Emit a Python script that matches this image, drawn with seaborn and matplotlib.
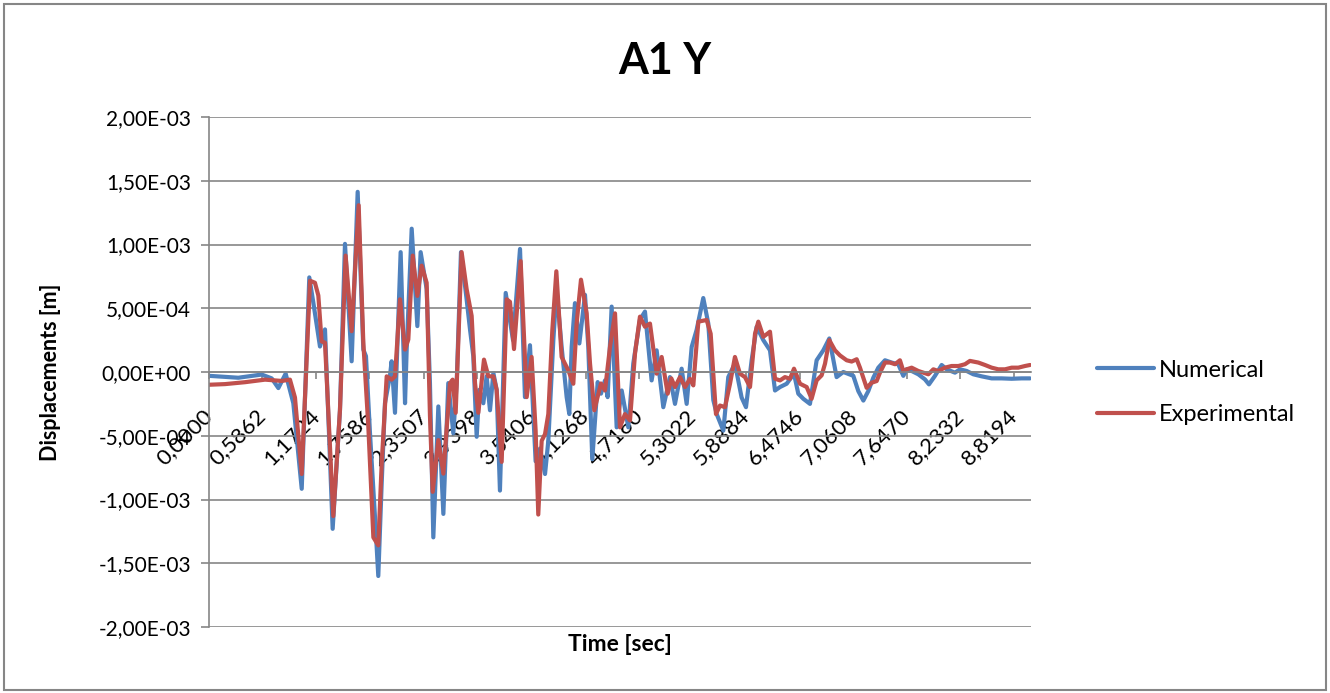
import numpy as np
import pandas as pd
import matplotlib
matplotlib.use("Agg")
import matplotlib.pyplot as plt
import matplotlib.ticker as mticker
from matplotlib.patches import Rectangle
import seaborn as sns

# Datos (desplazamientos en 1e-3 m)
t_num = [0.000, 0.321, 0.577, 0.687, 0.760, 0.840, 0.924, 1.016, 1.099, 1.143, 1.216, 1.271, 1.355, 1.435,
         1.490, 1.563, 1.629, 1.691, 1.720, 1.764, 1.819, 1.855, 1.892, 1.928, 1.983, 2.001, 2.038, 2.100,
         2.148, 2.166, 2.221, 2.283, 2.319, 2.385, 2.421, 2.458, 2.513, 2.568, 2.622, 2.677, 2.714, 2.761,
         2.823, 2.860, 2.896, 2.933, 2.962, 3.006, 3.042, 3.079, 3.116, 3.152, 3.188, 3.251, 3.331, 3.408,
         3.462, 3.517, 3.554, 3.579, 3.627, 3.682, 3.718, 3.773, 3.809, 3.864, 3.919, 3.948, 3.974, 4.010,
         4.058, 4.120, 4.156, 4.200, 4.259, 4.295, 4.339, 4.368, 4.412, 4.467, 4.522, 4.595, 4.649, 4.722,
         4.777, 4.850, 4.905, 4.978, 5.051, 5.106, 5.179, 5.234, 5.289, 5.343, 5.416, 5.471, 5.526, 5.563,
         5.636, 5.690, 5.763, 5.836, 5.884, 5.946, 6.001, 6.074, 6.147, 6.202, 6.257, 6.330, 6.410, 6.457,
         6.512, 6.585, 6.658, 6.731, 6.797, 6.877, 6.950, 7.060, 7.115, 7.170, 7.224, 7.279, 7.334, 7.407,
         7.480, 7.553, 7.608, 7.644, 7.699, 7.772, 7.845, 7.889, 7.955, 8.028, 8.083, 8.174, 8.229, 8.302,
         8.375, 8.466, 8.576, 8.685, 8.795, 8.904, 8.996]
y_num = [-0.03, -0.045, -0.02, -0.05, -0.126, -0.013, -0.245, -0.916, 0.742, 0.545, 0.2, 0.334, -1.23, -0.3,
         1.005, 0.084, 1.413, 0.176, 0.124, -0.48, -1.14, -1.60, -0.876, -0.245, -0.03, 0.084, -0.32, 0.94,
         -0.245, 0.176, 1.124, 0.36, 0.94, 0.65, -0.087, -1.297, -0.27, -1.113, -0.087, -0.48, -0.087, 0.94,
         0.57, 0.334, 0.124, -0.508, -0.14, -0.245, -0.034, -0.3, -0.008, -0.14, -0.93, 0.62, 0.25, 0.965,
         -0.197, 0.21, -0.33, -0.70, -0.60, -0.80, -0.54, 0.25, 0.645, 0.197, -0.197, -0.33, 0.197, 0.54,
         0.224, 0.605, 0.197, -0.684, -0.079, -0.17, -0.066, -0.197, 0.513, -0.434, -0.145, -0.434, 0.066, 0.41,
         0.474, -0.066, 0.17, -0.276, -0.04, -0.25, 0.026, -0.25, 0.197, 0.33, 0.58, 0.38, -0.22, -0.33,
         -0.46, -0.04, 0.066, -0.2, -0.276, 0.092, 0.355, 0.25, 0.17, -0.145, -0.118, -0.092, -0.013, -0.17,
         -0.21, -0.25, 0.092, 0.17, 0.263, -0.04, 0.0, -0.03, -0.15, -0.224, -0.15, -0.045, 0.034, 0.092,
         0.074, 0.06, -0.03, 0.021, 0.008, -0.018, -0.058, -0.097, -0.03, 0.055, 0.021, -0.005, 0.021, 0.008,
         -0.018, -0.034, -0.05, -0.05, -0.053, -0.05, -0.05]

t_exp = [0.000, 0.175, 0.394, 0.614, 0.796, 0.887, 0.942, 1.016, 1.107, 1.161, 1.198, 1.234, 1.271, 1.362,
         1.435, 1.497, 1.563, 1.640, 1.691, 1.746, 1.801, 1.855, 1.892, 1.947, 2.001, 2.038, 2.093, 2.148,
         2.184, 2.232, 2.283, 2.330, 2.385, 2.421, 2.451, 2.513, 2.568, 2.641, 2.670, 2.703, 2.768, 2.823,
         2.878, 2.915, 2.951, 3.013, 3.061, 3.116, 3.152, 3.207, 3.262, 3.298, 3.342, 3.415, 3.481, 3.535,
         3.579, 3.608, 3.645, 3.682, 3.718, 3.762, 3.806, 3.864, 3.937, 3.992, 4.028, 4.076, 4.138, 4.175,
         4.222, 4.295, 4.339, 4.394, 4.449, 4.503, 4.558, 4.613, 4.668, 4.722, 4.777, 4.832, 4.905, 4.960,
         5.026, 5.066, 5.106, 5.161, 5.216, 5.270, 5.307, 5.362, 5.453, 5.497, 5.555, 5.599, 5.654, 5.709,
         5.763, 5.818, 5.873, 5.928, 5.983, 6.019, 6.074, 6.147, 6.202, 6.257, 6.311, 6.366, 6.410, 6.476,
         6.549, 6.603, 6.658, 6.713, 6.750, 6.797, 6.859, 6.914, 6.987, 7.042, 7.097, 7.133, 7.170, 7.206,
         7.261, 7.316, 7.352, 7.407, 7.462, 7.517, 7.571, 7.608, 7.644, 7.699, 7.772, 7.827, 7.882, 7.937,
         7.991, 8.064, 8.137, 8.211, 8.284, 8.338, 8.430, 8.503, 8.576, 8.649, 8.722, 8.795, 8.868, 8.941,
         8.996]
y_exp = [-0.10, -0.095, -0.08, -0.06, -0.07, -0.06, -0.2, -0.80, 0.716, 0.70, 0.6, 0.24, 0.23, -1.13,
         -0.3, 0.913, 0.32, 1.308, 0.23, -0.43, -1.297, -1.36, -0.72, -0.034, -0.06, -0.034, 0.57, 0.176,
         0.255, 0.913, 0.597, 0.834, 0.70, -0.34, -0.94, -0.534, -0.797, -0.087, -0.06, -0.32, 0.94, 0.65,
         0.44, -0.087, -0.32, 0.097, -0.034, -0.034, -0.14, -0.705, 0.57, 0.55, 0.18, 0.87, -0.197, 0.118,
         -0.46, -1.118, -0.54, -0.487, -0.33, 0.33, 0.79, 0.118, 0.013, -0.092, 0.38, 0.724, 0.46, 0.066,
         -0.30, -0.09, -0.145, 0.197, 0.46, -0.434, -0.33, -0.38, 0.145, 0.434, 0.355, 0.38, -0.013, 0.118,
         -0.17, -0.05, -0.118, -0.04, -0.118, -0.053, -0.105, 0.395, 0.408, 0.3, -0.33, -0.263, -0.276, -0.092,
         0.118, -0.013, -0.04, -0.118, 0.3, 0.395, 0.276, 0.316, -0.053, -0.066, -0.04, -0.053, 0.026, -0.092,
         -0.118, -0.21, -0.066, -0.026, 0.066, 0.25, 0.17, 0.13, 0.092, 0.082, 0.1, 0.034, -0.045, -0.124,
         -0.084, -0.071, -0.005, 0.074, 0.074, 0.061, 0.092, 0.008, 0.021, 0.034, 0.008, -0.005, -0.018, 0.021,
         0.008, 0.034, 0.047, 0.047, 0.061, 0.087, 0.074, 0.055, 0.034, 0.021, 0.021, 0.034, 0.034, 0.047,
         0.055]

x_labels = ['0,0000', '0,5862', '1,1724', '1,7586', '2,3507', '2,9398', '3,5406', '4,1268',
            '4,7160', '5,3022', '5,8884', '6,4746', '7,0608', '7,6470', '8,2332', '8,8194']

series = ['Numerical', 'Experimental']
colores = {'Numerical': '#4F81BD', 'Experimental': '#C0504D'}

df = pd.concat([
    pd.DataFrame({'time': t_num, 'disp': np.array(y_num) * 1e-3, 'serie': 'Numerical'}),
    pd.DataFrame({'time': t_exp, 'disp': np.array(y_exp) * 1e-3, 'serie': 'Experimental'}),
], ignore_index=True)

sns.set_style('white')
plt.rcParams['font.family'] = ['Lato', 'DejaVu Sans']
plt.rcParams['text.color'] = 'black'
plt.rcParams['axes.labelcolor'] = 'black'
plt.rcParams['xtick.labelcolor'] = 'black'
plt.rcParams['ytick.labelcolor'] = 'black'

gris = '#868686'
fig = plt.figure(figsize=(13.3, 6.93), dpi=100)
ax = fig.add_axes([209 / 1330, 1 - 627 / 693, 822 / 1330, 510 / 693])

sns.lineplot(data=df, x='time', y='disp', hue='serie', hue_order=series, palette=colores,
             estimator=None, sort=False, linewidth=3.0, ax=ax)

ax.set_xlim(0, 9.007)
ax.set_ylim(-2e-3, 2e-3)
ax.yaxis.set_major_locator(mticker.MultipleLocator(5e-4))
ax.yaxis.set_major_formatter(mticker.FuncFormatter(lambda v, p: f"{v:.2E}".replace('.', ',')))
ax.grid(axis='y', color=gris, linewidth=1.2)
ax.grid(axis='x', visible=False)

ax.set_xticks([float(s.replace(',', '.')) for s in x_labels])
ax.set_xticklabels(x_labels)

for lado in ['top', 'right']:
    ax.spines[lado].set_visible(False)
ax.spines['left'].set_color(gris)
ax.spines['left'].set_linewidth(1.2)
ax.spines['bottom'].set_position(('data', 0))
ax.spines['bottom'].set_color(gris)
ax.spines['bottom'].set_linewidth(1.2)

ax.tick_params(axis='y', which='major', direction='out', length=6, width=1.2, color=gris,
               labelsize=15, pad=7, left=True)
ax.tick_params(axis='x', which='major', direction='out', length=5, width=1.2, color=gris,
               labelsize=16, pad=24, bottom=True)
for lab in ax.get_xticklabels():
    lab.set_rotation(45)
    lab.set_ha('right')
    lab.set_va('center')
    lab.set_rotation_mode('anchor')

ax.set_xlabel('Time [sec]', fontsize=16.5, fontweight='bold')
ax.xaxis.set_label_coords(0.5, -0.014)
ax.set_ylabel('Displacements [m]', fontsize=15.5, fontweight='bold')
ax.yaxis.set_label_coords(-0.18, 0.5)

fig.text(0.5, 0.912, 'A1 Y', ha='center', va='center', fontsize=31, fontweight='bold')

ax.legend(loc='center left', bbox_to_anchor=(1.055, 0.46), frameon=False, fontsize=17,
          handlelength=2.4, handletextpad=0.2, labelspacing=1.0)

fig.patches.append(Rectangle((4 / 1330, 3 / 693), 1322 / 1330, 686 / 693, transform=fig.transFigure,
                             fill=False, edgecolor=gris, linewidth=1.5))

fig.savefig('out.png', dpi=100)
